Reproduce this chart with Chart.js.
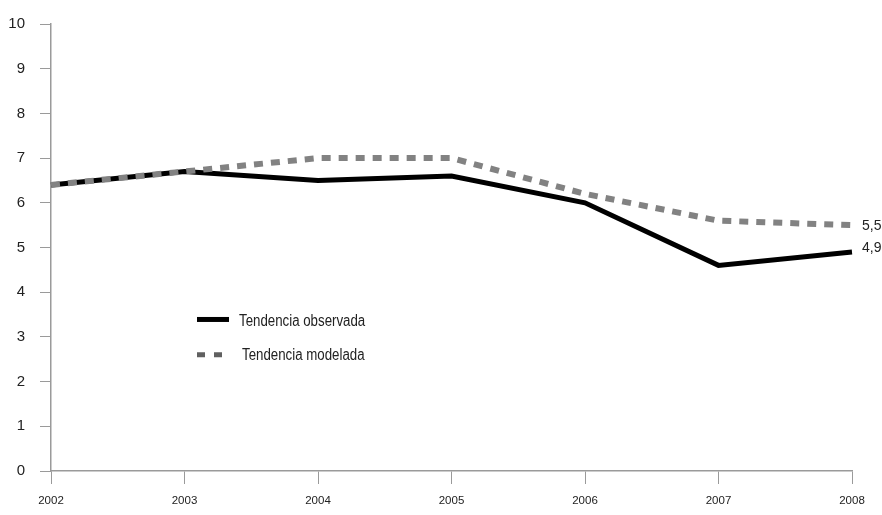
<!DOCTYPE html>
<html><head><meta charset="utf-8">
<script src="https://cdn.jsdelivr.net/npm/chart.js@4/dist/chart.umd.min.js"></script>
<style>html,body{margin:0;padding:0;background:#fff}#wrap{width:882px;height:515px}</style>
</head><body><div id="wrap"><canvas id="c"></canvas></div>
<script>
const years = ['2002','2003','2004','2005','2006','2007','2008'];
const observada = [6.4, 6.7, 6.5, 6.6, 6.0, 4.6, 4.9];
const modelada = [6.4, 6.7, 7.0, 7.0, 6.2, 5.6, 5.5];
const seriesNames = ['Tendencia observada', 'Tendencia modelada'];
const endLabels = ['4,9', '5,5'];

const FONT = "'Liberation Sans', Arial, sans-serif";

function condensedText(ctx, text, x, y, sx) {
  ctx.save();
  ctx.translate(x, y);
  ctx.scale(sx, 1);
  ctx.fillText(text, 0, 0);
  ctx.restore();
}

const overlay = {
  id: 'overlay',
  afterDatasetsDraw(chart) {
    const ctx = chart.ctx;
    const xs = chart.scales.x, ys = chart.scales.y;
    ctx.save();
    ctx.font = '14px ' + FONT;
    ctx.fillStyle = '#222';
    ctx.textBaseline = 'middle';
    ctx.textAlign = 'left';
    const last = years.length - 1;
    const xe = xs.getPixelForValue(last) + 10;
    ctx.fillText(endLabels[1], xe, ys.getPixelForValue(modelada[last]) + 1);
    ctx.fillText(endLabels[0], xe, ys.getPixelForValue(observada[last]) - 4);
    // legend
    const lx = chart.chartArea.left + 146;
    const ly1 = ys.getPixelForValue(3.39);
    const ly2 = ys.getPixelForValue(2.6);
    ctx.strokeStyle = '#000';
    ctx.lineWidth = 5;
    ctx.setLineDash([]);
    ctx.beginPath(); ctx.moveTo(lx, ly1); ctx.lineTo(lx + 32, ly1); ctx.stroke();
    ctx.font = '16px ' + FONT;
    condensedText(ctx, seriesNames[0], lx + 42, ly1 + 2, 0.83);
    ctx.strokeStyle = '#606060';
    ctx.lineWidth = 5;
    ctx.setLineDash([8, 9]);
    ctx.beginPath(); ctx.moveTo(lx, ly2); ctx.lineTo(lx + 25, ly2); ctx.stroke();
    ctx.setLineDash([]);
    condensedText(ctx, seriesNames[1], lx + 45, ly2 + 1, 0.83);
    ctx.restore();
  }
};

new Chart(document.getElementById('c'), {
  type: 'line',
  data: {
    labels: years,
    datasets: [
      { label: seriesNames[1], data: modelada, borderColor: '#828282', borderWidth: 6,
        borderDash: [9, 8], pointRadius: 0, tension: 0, clip: false, order: 0,
        borderCapStyle: 'butt' },
      { label: seriesNames[0], data: observada, borderColor: '#000', borderWidth: 5,
        pointRadius: 0, tension: 0, clip: false, order: 1, borderJoinStyle: 'miter' }
    ]
  },
  options: {
    responsive: true, maintainAspectRatio: false, animation: false,
    layout: { padding: { top: 19, right: 30, left: 0, bottom: 0 } },
    plugins: { legend: { display: false }, tooltip: { enabled: false } },
    scales: {
      x: {
        offset: false,
        grid: { drawOnChartArea: false, color: '#9a9a9a', tickLength: 13, lineWidth: 1 },
        border: { color: '#9a9a9a', width: 1.5 },
        ticks: { color: '#222', font: { family: FONT, size: 11.5 }, padding: 10, maxRotation: 0 },
        afterFit(s) { s.height = 44; }
      },
      y: {
        min: 0, max: 10,
        grid: { drawOnChartArea: false, color: '#9a9a9a', tickLength: 11, lineWidth: 1 },
        border: { color: '#9a9a9a', width: 1.5 },
        ticks: { stepSize: 1, color: '#222', font: { family: FONT, size: 15 }, padding: 15 },
        afterFit(s) { s.width = 51; }
      }
    }
  },
  plugins: [overlay]
});
</script></body></html>
